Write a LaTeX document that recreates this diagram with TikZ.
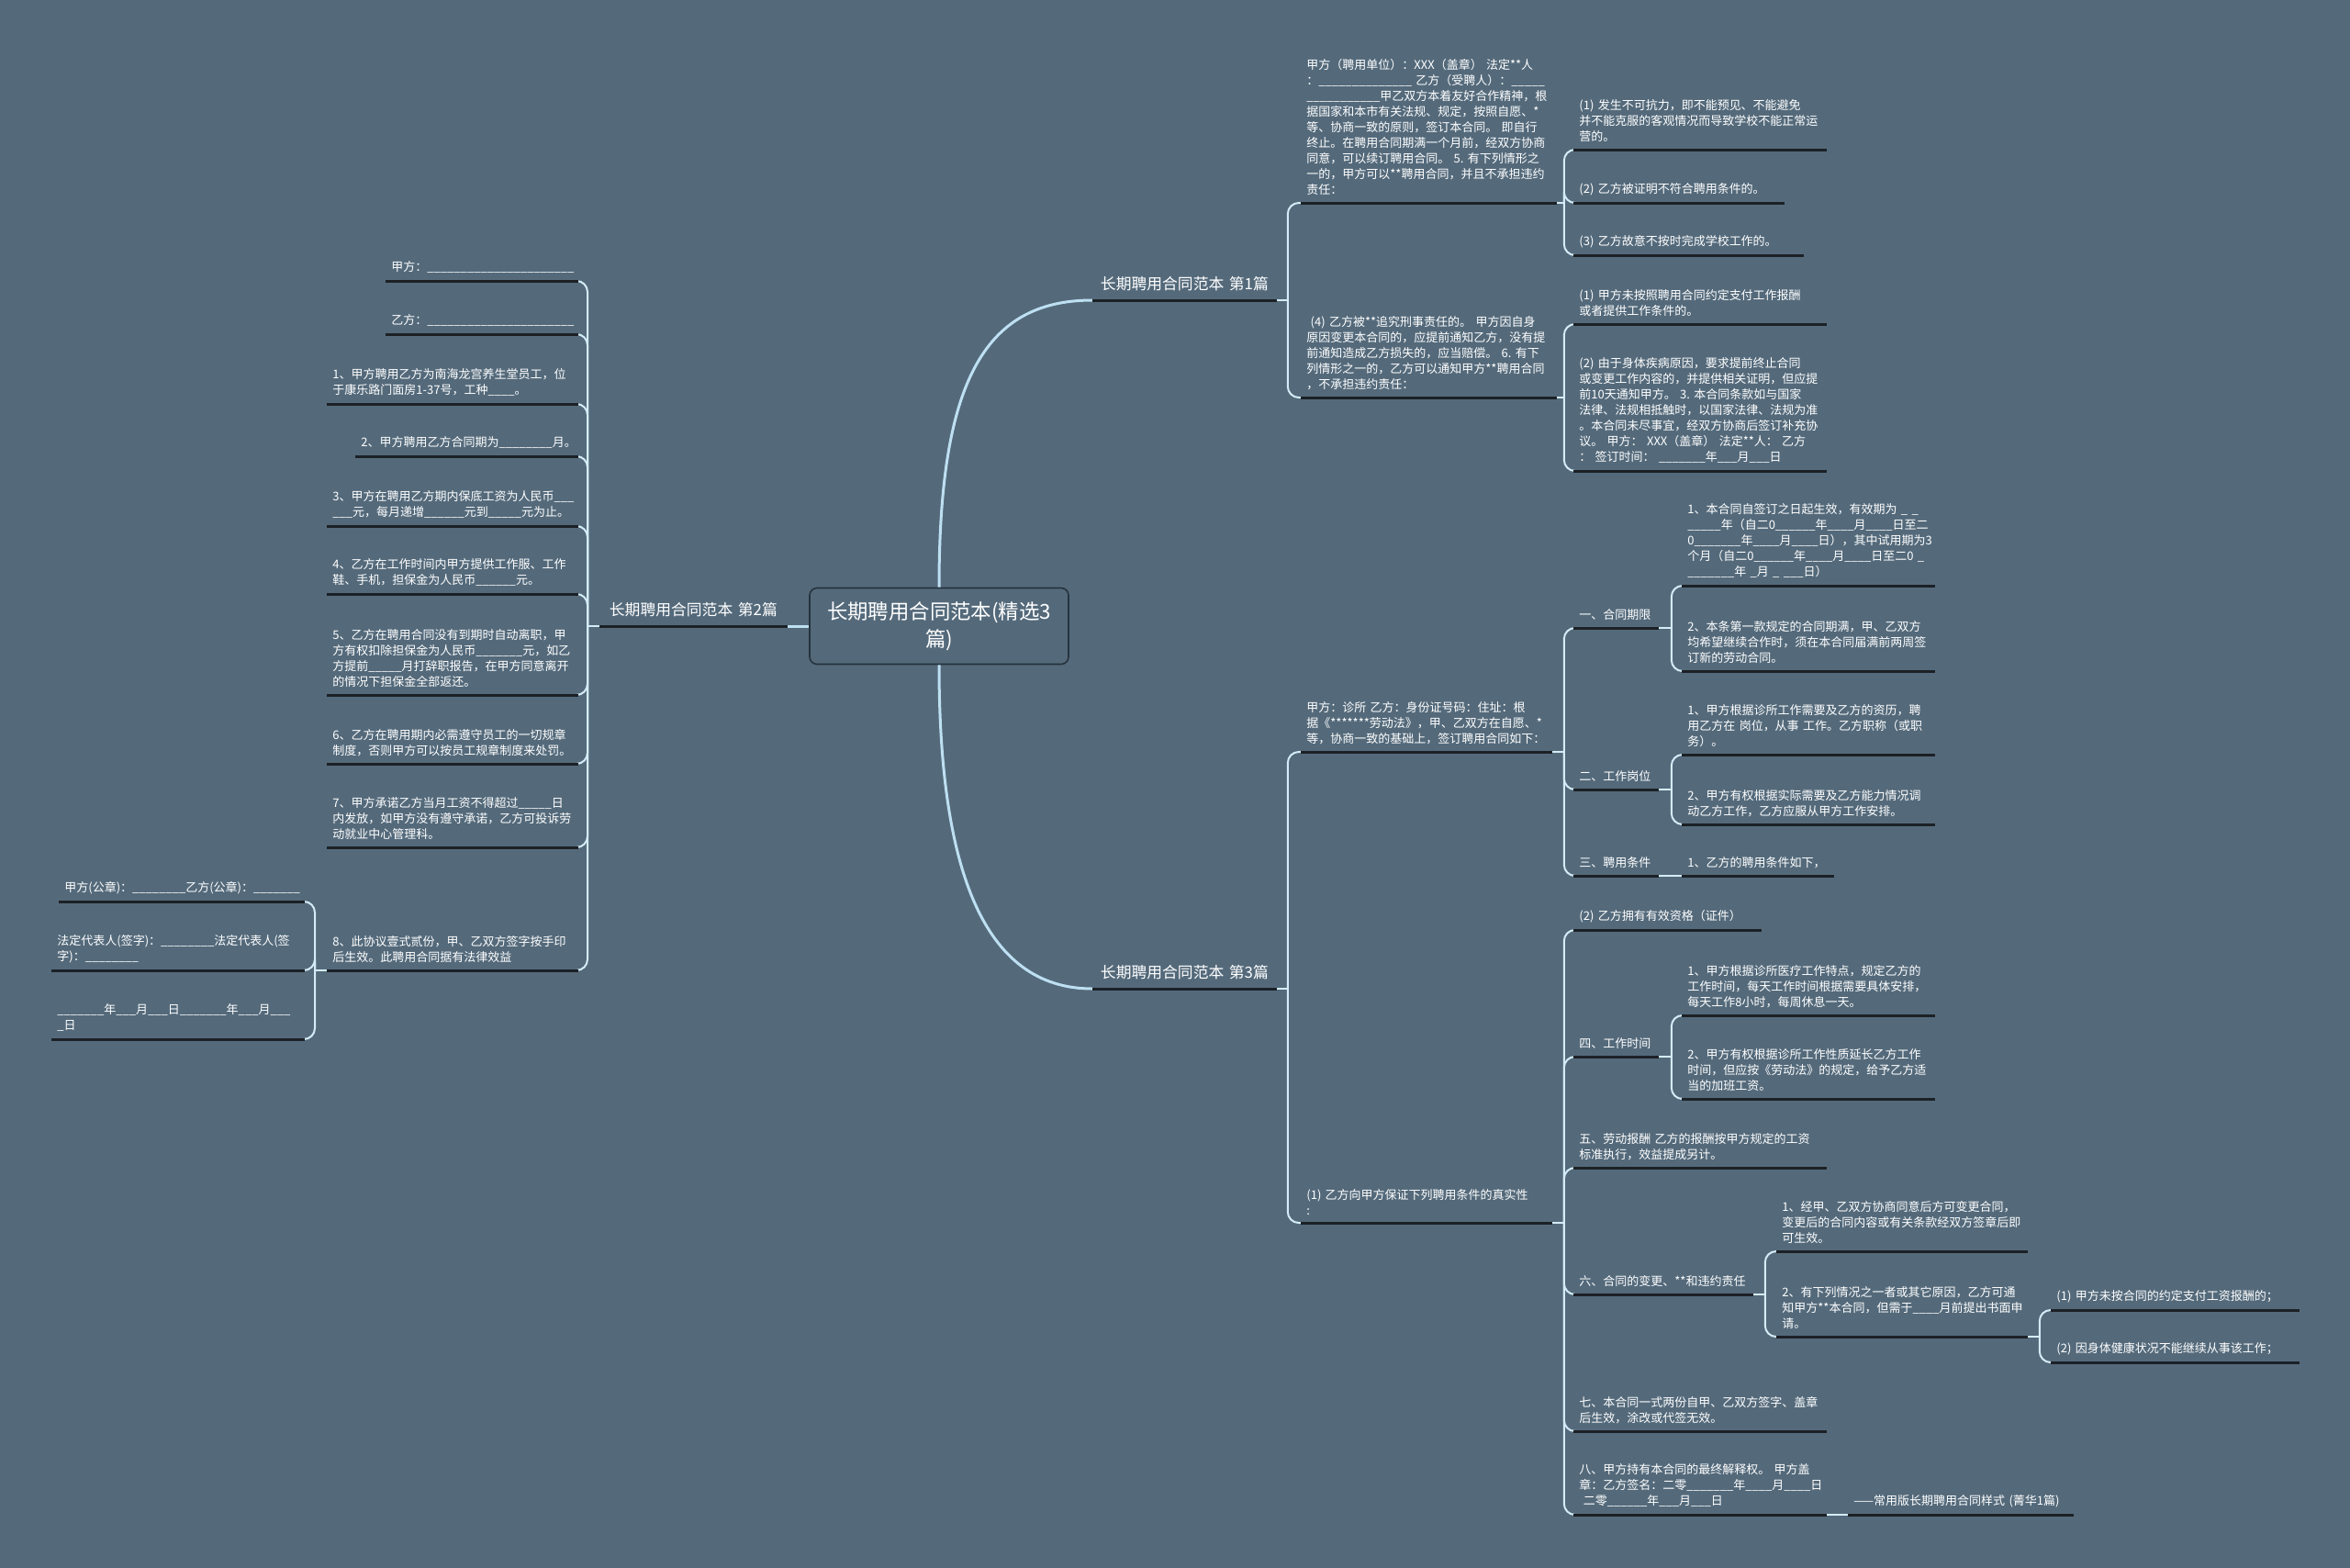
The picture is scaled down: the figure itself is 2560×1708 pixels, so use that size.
\documentclass[tikz,border=0pt]{standalone}
\usepackage{fontspec}
\usepackage{xcolor}
\usepackage{tikz}
\newfontfamily\cjk{Noto Sans CJK SC}
\newcommand\leaffont{\cjk\fontsize{6.5}{8.5}\selectfont}
\newcommand\branchfont{\cjk\fontsize{8.4}{10}\selectfont}
\newcommand\rootfont{\cjk\fontsize{11.2}{15}\selectfont}
\newcommand\uscore[1]{\foreach \k in {1,...,#1}{\_}}
\definecolor{bgcol}{HTML}{546A7B}
\definecolor{conncol}{HTML}{D4ECF7}
\definecolor{trunkcol}{HTML}{BDE0F2}
\definecolor{ulcol}{HTML}{1C2126}
\definecolor{rootline}{HTML}{26323C}
\tikzset{
  leaf/.style={anchor=south west, inner xsep=3pt, inner ysep=4pt, align=left, text=white, font=\leaffont},
  branch/.style={anchor=south west, inner xsep=1pt, inner ysep=5pt, align=center, text=white, font=\branchfont},
  rootbox/.style={draw=rootline, fill=bgcol, rounded corners=4pt, line width=0.8pt, minimum width=141pt, minimum height=41.5pt, align=center, text=white, font=\rootfont},
  uline/.style={draw=ulcol, line width=1.5pt},
  conn/.style={draw=conncol, line width=1pt, rounded corners=6pt},
  trunk/.style={draw=trunkcol, line width=1.5pt}
}

\begin{document}
\begin{tikzpicture}[x=0.5pt, y=-0.5pt]
        \useasboundingbox (0, 0) rectangle (2560, 1708);
        \fill[bgcol] (0, 0) rectangle (2560, 1708);

        % centre
        \node[rootbox] (root) at (1023, 682) {长期聘用合同范本(精选3\\篇)};

        % first contract
        \node[branch, text width=98pt] (b1) at (1190, 327) {长期聘用合同范本~第1篇};
        \node[leaf, text width=133pt] (c11) at (1417, 221)
            {甲方（聘用单位）：XXX（盖章）~法定**人\\
             ：\uscore{14}~乙方（受聘人）：\uscore{5}\\
             \uscore{11}甲乙双方本着友好合作精神，根\\
             据国家和本市有关法规、规定，按照自愿、*\\
             等、协商一致的原则，签订本合同。~即自行\\
             终止。在聘用合同期满一个月前，经双方协商\\
             同意，可以续订聘用合同。~5.~有下列情形之\\
             一的，甲方可以**聘用合同，并且不承担违约\\
             责任：};
        \node[leaf, text width=133pt] (c12) at (1417, 433)
            {~(4)~乙方被**追究刑事责任的。~甲方因自身\\
             原因变更本合同的，应提前通知乙方，没有提\\
             前通知造成乙方损失的，应当赔偿。~6.~有下\\
             列情形之一的，乙方可以通知甲方**聘用合同\\
             ，不承担违约责任：};
        \node[leaf, text width=131.5pt] (c111) at (1714, 163)
            {(1)~发生不可抗力，即不能预见、不能避免\\
             并不能克服的客观情况而导致学校不能正常运\\
             营的。};
        \node[leaf, text width=108.5pt] (c112) at (1714, 221) {(2)~乙方被证明不符合聘用条件的。};
        \node[leaf, text width=119pt] (c113) at (1714, 278) {(3)~乙方故意不按时完成学校工作的。};
        \node[leaf, text width=131.5pt] (c121) at (1714, 353)
            {(1)~甲方未按照聘用合同约定支付工作报酬\\
             或者提供工作条件的。};
        \node[leaf, text width=131.5pt] (c122) at (1714, 513)
            {(2)~由于身体疾病原因，要求提前终止合同\\
             或变更工作内容的，并提供相关证明，但应提\\
             前10天通知甲方。~3.~本合同条款如与国家\\
             法律、法规相抵触时，以国家法律、法规为准\\
             。本合同未尽事宜，经双方协商后签订补充协\\
             议。~甲方：~XXX（盖章）~法定**人：~乙方\\
             ：~签订时间：~\uscore{7}年\uscore{3}月\uscore{3}日};

        % second contract
        \node[branch, text width=100pt] (b2) at (653, 682) {长期聘用合同范本~第2篇};
        \node[leaf, text width=98.5pt] (l1) at (420, 306) {甲方：\uscore{22}};
        \node[leaf, text width=98.5pt] (l2) at (420, 364) {乙方：\uscore{22}};
        \node[leaf, text width=130.5pt] (l3) at (356, 440)
            {1、甲方聘用乙方为南海龙宫养生堂员工，位\\
             于康乐路门面房1-37号，工种\uscore{4}。};
        \node[leaf, text width=115pt] (l4) at (387, 497) {2、甲方聘用乙方合同期为\uscore{8}月。};
        \node[leaf, text width=130.5pt] (l5) at (356, 573)
            {3、甲方在聘用乙方期内保底工资为人民币\uscore{3}\\
             \uscore{3}元，每月递增\uscore{6}元到\uscore{5}元为止。};
        \node[leaf, text width=130.5pt] (l6) at (356, 647)
            {4、乙方在工作时间内甲方提供工作服、工作\\
             鞋、手机，担保金为人民币\uscore{6}元。};
        \node[leaf, text width=130.5pt] (l7) at (356, 757)
            {5、乙方在聘用合同没有到期时自动离职，甲\\
             方有权扣除担保金为人民币\uscore{7}元，如乙\\
             方提前\uscore{5}月打辞职报告，在甲方同意离开\\
             的情况下担保金全部返还。};
        \node[leaf, text width=130.5pt] (l8) at (356, 832)
            {6、乙方在聘用期内必需遵守员工的一切规章\\
             制度，否则甲方可以按员工规章制度来处罚。};
        \node[leaf, text width=130.5pt] (l9) at (356, 923)
            {7、甲方承诺乙方当月工资不得超过\uscore{5}日\\
             内发放，如甲方没有遵守承诺，乙方可投诉劳\\
             动就业中心管理科。};
        \node[leaf, text width=130.5pt] (l10) at (356, 1057)
            {8、此协议壹式贰份，甲、乙双方签字按手印\\
             后生效。此聘用合同据有法律效益};
        \node[leaf, text width=127.5pt] (l101) at (64, 982)
            {甲方(公章)：\uscore{8}乙方(公章)：\uscore{7}};
        \node[leaf, text width=131.5pt] (l102) at (56, 1057)
            {法定代表人(签字)：\uscore{8}法定代表人(签\\
             字)：\uscore{8}};
        \node[leaf, text width=131.5pt] (l103) at (56, 1132)
            {\uscore{7}年\uscore{3}月\uscore{3}日\uscore{7}年\uscore{3}月\uscore{3}\\
             \_日};

        % third contract
        \node[branch, text width=98pt] (b3) at (1190, 1077) {长期聘用合同范本~第3篇};
        \node[leaf, text width=130.5pt] (c31) at (1417, 819)
            {甲方：诊所~乙方：身份证号码：住址：根\\
             据《*******劳动法》，甲、乙双方在自愿、*\\
             等，协商一致的基础上，签订聘用合同如下：};
        \node[leaf, text width=130.5pt] (c32) at (1417, 1332)
            {(1)~乙方向甲方保证下列聘用条件的真实性\\
             :};
        \node[leaf, text width=40pt] (s1) at (1714, 684) {一、合同期限};
        \node[leaf, text width=40pt] (s2) at (1714, 860) {二、工作岗位};
        \node[leaf, text width=40pt] (s3) at (1714, 954) {三、聘用条件};
        \node[leaf, text width=131.5pt] (s11) at (1832, 638)
            {1、本合同自签订之日起生效，有效期为~\_~\_\\
             \uscore{5}年（自二0\uscore{6}年\uscore{4}月\uscore{4}日至二\\
             0\uscore{7}年\uscore{4}月\uscore{4}日），其中试用期为3\\
             个月（自二0\uscore{6}年\uscore{4}月\uscore{4}日至二0~\_\\
             \uscore{7}年~\_月~\_~\uscore{3}日）};
        \node[leaf, text width=131.5pt] (s12) at (1832, 731)
            {2、本条第一款规定的合同期满，甲、乙双方\\
             均希望继续合作时，须在本合同届满前两周签\\
             订新的劳动合同。};
        \node[leaf, text width=131.5pt] (s21) at (1832, 822)
            {1、甲方根据诊所工作需要及乙方的资历，聘\\
             用乙方在~岗位，从事~工作。乙方职称（或职\\
             务）。};
        \node[leaf, text width=131.5pt] (s22) at (1832, 898)
            {2、甲方有权根据实际需要及乙方能力情况调\\
             动乙方工作，乙方应服从甲方工作安排。};
        \node[leaf, text width=76.5pt] (s31) at (1832, 954) {1、乙方的聘用条件如下，};
        \node[leaf, text width=96pt] (d1) at (1714, 1013) {(2)~乙方拥有有效资格（证件）};
        \node[leaf, text width=40pt] (d2) at (1714, 1151) {四、工作时间};
        \node[leaf, text width=131.5pt] (d21) at (1832, 1106)
            {1、甲方根据诊所医疗工作特点，规定乙方的\\
             工作时间，每天工作时间根据需要具体安排，\\
             每天工作8小时，每周休息一天。};
        \node[leaf, text width=131.5pt] (d22) at (1832, 1197)
            {2、甲方有权根据诊所工作性质延长乙方工作\\
             时间，但应按《劳动法》的规定，给予乙方适\\
             当的加班工资。};
        \node[leaf, text width=131.5pt] (d3) at (1714, 1272)
            {五、劳动报酬~乙方的报酬按甲方规定的工资\\
             标准执行，效益提成另计。};
        \node[leaf, text width=91.5pt] (d4) at (1714, 1410) {六、合同的变更、**和违约责任};
        \node[leaf, text width=130.5pt] (d41) at (1935, 1363)
            {1、经甲、乙双方协商同意后方可变更合同，\\
             变更后的合同内容或有关条款经双方签章后即\\
             可生效。};
        \node[leaf, text width=130.5pt] (d42) at (1935, 1456)
            {2、有下列情况之一者或其它原因，乙方可通\\
             知甲方**本合同，但需于\uscore{4}月前提出书面申\\
             请。};
        \node[leaf, text width=129pt] (d421) at (2234, 1427) {(1)~甲方未按合同的约定支付工资报酬的；};
        \node[leaf, text width=129pt] (d422) at (2234, 1484) {(2)~因身体健康状况不能继续从事该工作；};
        \node[leaf, text width=131.5pt] (d5) at (1714, 1559)
            {七、本合同一式两份自甲、乙双方签字、盖章\\
             后生效，涂改或代签无效。};
        \node[leaf, text width=131.5pt] (d6) at (1714, 1650)
            {八、甲方持有本合同的最终解释权。~甲方盖\\
             章：乙方签名：二零\uscore{7}年\uscore{4}月\uscore{4}日\\
             ~二零\uscore{6}年\uscore{3}月\uscore{3}日};
        \node[leaf, text width=116.5pt] (d61) at (2013, 1650) {——常用版长期聘用合同样式~(菁华1篇)};

        % trunk lines
        \draw[trunk] (root.north) .. controls (1023, 420) and (1070, 327) .. (b1.south west);
        \draw[trunk] (root.south) .. controls (1023, 944) and (1070, 1077) .. (b3.south west);
        \draw[trunk] (root.west) -- (b2.south east);

        % brackets, right side
        \coordinate (j1) at ([xshift=6pt]b1.south east);
        \draw[conn] (b1.south east) -- (j1);
        \draw[conn] (j1) |- (c11.south west);
        \draw[conn] (j1) |- (c12.south west);
        \coordinate (j11) at ([xshift=4pt]c11.south east);
        \draw[conn] (c11.south east) -- (j11);
        \draw[conn] (j11) |- (c111.south west);
        \draw[conn] (j11) |- (c112.south west);
        \draw[conn] (j11) |- (c113.south west);
        \coordinate (j12) at ([xshift=4pt]c12.south east);
        \draw[conn] (c12.south east) -- (j12);
        \draw[conn] (j12) |- (c121.south west);
        \draw[conn] (j12) |- (c122.south west);

        \coordinate (j3) at ([xshift=6pt]b3.south east);
        \draw[conn] (b3.south east) -- (j3);
        \draw[conn] (j3) |- (c31.south west);
        \draw[conn] (j3) |- (c32.south west);
        \coordinate (j31) at ([xshift=6.5pt]c31.south east);
        \draw[conn] (c31.south east) -- (j31);
        \draw[conn] (j31) |- (s1.south west);
        \draw[conn] (j31) |- (s2.south west);
        \draw[conn] (j31) |- (s3.south west);
        \coordinate (js1) at ([xshift=7pt]s1.south east);
        \draw[conn] (s1.south east) -- (js1);
        \draw[conn] (js1) |- (s11.south west);
        \draw[conn] (js1) |- (s12.south west);
        \coordinate (js2) at ([xshift=7pt]s2.south east);
        \draw[conn] (s2.south east) -- (js2);
        \draw[conn] (js2) |- (s21.south west);
        \draw[conn] (js2) |- (s22.south west);
        \draw[conn] (s3.south east) -- (s31.south west);
        \coordinate (j32) at ([xshift=6.5pt]c32.south east);
        \draw[conn] (c32.south east) -- (j32);
        \draw[conn] (j32) |- (d1.south west);
        \draw[conn] (j32) |- (d2.south west);
        \draw[conn] (j32) |- (d3.south west);
        \draw[conn] (j32) |- (d4.south west);
        \draw[conn] (j32) |- (d5.south west);
        \draw[conn] (j32) |- (d6.south west);
        \coordinate (jd2) at ([xshift=7pt]d2.south east);
        \draw[conn] (d2.south east) -- (jd2);
        \draw[conn] (jd2) |- (d21.south west);
        \draw[conn] (jd2) |- (d22.south west);
        \coordinate (jd4) at ([xshift=6.5pt]d4.south east);
        \draw[conn] (d4.south east) -- (jd4);
        \draw[conn] (jd4) |- (d41.south west);
        \draw[conn] (jd4) |- (d42.south west);
        \coordinate (jd42) at ([xshift=6.5pt]d42.south east);
        \draw[conn] (d42.south east) -- (jd42);
        \draw[conn] (jd42) |- (d421.south west);
        \draw[conn] (jd42) |- (d422.south west);
        \draw[conn] (d6.south east) -- (d61.south west);

        % brackets, left side
        \coordinate (j2) at ([xshift=-6.5pt]b2.south west);
        \draw[conn] (b2.south west) -- (j2);
        \foreach \n in {l1, l2, l3, l4, l5, l6, l7, l8, l9, l10}
            \draw[conn] (j2) |- (\n.south east);
        \coordinate (j210) at ([xshift=-6.5pt]l10.south west);
        \draw[conn] (l10.south west) -- (j210);
        \foreach \n in {l101, l102, l103}
            \draw[conn] (j210) |- (\n.south east);

        % underlines
        \foreach \n in {b1, c11, c12, c111, c112, c113, c121, c122,
                        b2, l1, l2, l3, l4, l5, l6, l7, l8, l9, l10, l101, l102, l103,
                        b3, c31, c32, s1, s2, s3, s11, s12, s21, s22, s31,
                        d1, d2, d21, d22, d3, d4, d41, d42, d421, d422, d5, d6, d61}
            \draw[uline] (\n.south west) -- (\n.south east);
\end{tikzpicture}
\end{document}
